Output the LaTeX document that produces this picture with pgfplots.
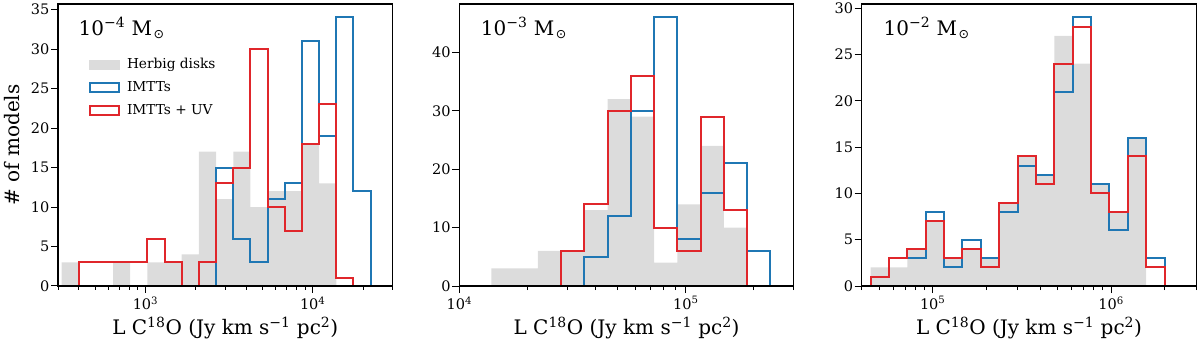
\documentclass[border=0pt]{standalone}
\usepackage{fontspec}
\setmainfont{DejaVu Serif}
\newfontfamily\symfont{DejaVu Sans}
\usepackage{pgfplots}
\pgfplotsset{compat=1.18}

\definecolor{mblue}{HTML}{1F77B4}
\definecolor{mred}{HTML}{E0262B}
\definecolor{herbig}{RGB}{220,220,220}

\newcommand{\msun}{M\hspace{1.5pt}\raisebox{-3.2pt}{\fontsize{12.5}{12.5}\symfont ⊙}}

\pgfplotsset{
  every axis/.append style={
    scale only axis, width=334.5pt, height=282pt,
    ymin=0, axis on top,
    axis line style={line width=1.1pt},
    tick align=outside, xtick pos=bottom, ytick pos=left,
    major tick length=7pt, minor tick length=4pt,
    tick label style={font=\fontsize{14.5}{16}\selectfont},
    yticklabel style={inner sep=1.5pt},
    label style={font=\fontsize{20}{24}\selectfont},
    /pgf/number format/assume math mode=true,
    xlabel={L C\textsuperscript{18}O (Jy km s\textsuperscript{−1} pc\textsuperscript{2})},
    xlabel style={at={(axis description cs:0.5,-0.173)}, anchor=base},
  },
  every tick/.append style={black, line width=1pt},
}
\tikzset{
  herb/.style={fill=herbig, draw=none, const plot, mark=none},
  imtt/.style={const plot, line width=2pt, draw=mblue, mark=none},
  imttuv/.style={const plot, line width=2pt, draw=mred, mark=none},
  ptitle/.style={anchor=base west, font=\fontsize{20}{24}\selectfont},
}

\begin{document}
\begin{tikzpicture}
\useasboundingbox (0pt,0pt) rectangle (1200pt,343pt);

% ---- 1e-4 Msun ----
\begin{semilogxaxis}[at={(58pt,57pt)}, anchor=south west,
  xmin=300, xmax=30000, ymax=35.7,
  xtick={1000,10000}, xticklabels={10\textsuperscript{3},10\textsuperscript{4}},
  minor xtick={300,400,500,600,700,800,900,2000,3000,4000,5000,6000,7000,8000,9000,20000,30000},
  ytick={0,5,10,15,20,25,30,35},
  ylabel={\# of models},
  ylabel style={at={(axis description cs:-0.137,0.5)}, anchor=center},
  legend cell align=left,
  legend style={at={(axis description cs:0.093,0.816)}, anchor=north west,
    draw=none, fill=none, inner sep=0pt, row sep=6pt,
    font=\fontsize{13.7}{16}\selectfont,
    nodes={inner sep=2pt, text height=10pt, text depth=3pt},
    /tikz/every odd column/.append style={column sep=5pt}},
]
\addplot[herb, legend image code/.code={\fill[herbig] (0pt,-5pt) rectangle (30.7pt,5pt);}] coordinates {(314.8,3)(398.8,0)(505.2,0)(639.9,3)(810.6,0)(1026.9,3)(1300.8,3)(1647.8,4)(2087.4,17)(2644.2,11)(3349.6,17)(4243.1,10)(5375,12)(6808.9,12)(8625.2,18)(10926,13)(13841,13)} \closedcycle;
\addlegendentry{Herbig disks}
\addplot[imtt, legend image code/.code={\draw[mblue, line width=2pt] (1pt,-4.3pt) rectangle (29.7pt,4.3pt);}] coordinates {(2644.2,0)(2644.2,15)(3349.6,6)(4243.1,3)(5375,11)(6808.9,13)(8625.2,31)(10926,19)(13841,34)(17533,12)(22210,12)(22210,0)};
\addlegendentry{IMTTs}
\addplot[imttuv, legend image code/.code={\draw[mred, line width=2pt] (1pt,-4.3pt) rectangle (29.7pt,4.3pt);}] coordinates {(398.8,0)(398.8,3)(505.2,3)(639.9,3)(810.6,3)(1026.9,6)(1300.8,3)(1647.8,0)(2087.4,3)(2644.2,13)(3349.6,15)(4243.1,30)(5375,10)(6808.9,7)(8625.2,18)(10926,23)(13841,1)(17533,1)(17533,0)};
\addlegendentry{IMTTs + UV}
\node[ptitle] at (axis description cs:0.051,0.89) {10\textsuperscript{−4} \msun};
\end{semilogxaxis}

% ---- 1e-3 Msun ----
\begin{semilogxaxis}[at={(459.3pt,57pt)}, anchor=south west,
  xmin=10000, xmax=300000, ymax=48.3,
  xtick={10000,100000}, xticklabels={10\textsuperscript{4},10\textsuperscript{5}},
  minor xtick={20000,30000,40000,50000,60000,70000,80000,90000,200000,300000},
  ytick={0,10,20,30,40},
]
\addplot[herb] coordinates {(13836,3)(17527,3)(22203,6)(28125,6)(35628,13)(45132,32)(57171,29)(72422,4)(91741,14)(116214,24)(147215,10)(186488,10)} \closedcycle;
\addplot[imtt] coordinates {(35628,0)(35628,5)(45132,12)(57171,30)(72422,46)(91741,8)(116214,16)(147215,21)(186488,6)(236234,6)(236234,0)};
\addplot[imttuv] coordinates {(28125,0)(28125,6)(35628,14)(45132,30)(57171,36)(72422,10)(91741,6)(116214,29)(147215,13)(186488,13)(186488,0)};
\node[ptitle] at (axis description cs:0.054,0.89) {10\textsuperscript{−3} \msun};
\end{semilogxaxis}

% ---- 1e-2 Msun ----
\begin{semilogxaxis}[at={(861.7pt,57pt)}, anchor=south west,
  xmin=40000, xmax=3000000, ymax=30.45,
  xtick={100000,1000000}, xticklabels={10\textsuperscript{5},10\textsuperscript{6}},
  minor xtick={40000,50000,60000,70000,80000,90000,200000,300000,400000,500000,600000,700000,800000,900000,2000000,3000000},
  ytick={0,5,10,15,20,25,30},
]
\addplot[herb] coordinates {(44843,2)(56845,2)(72059,4)(91346,7)(115795,3)(146788,4)(186076,3)(235880,9)(299014,14)(379046,12)(480497,27)(609101,24)(772126,11)(978785,8)(1240758,16)(1572846,16)} \closedcycle;
\addplot[imtt] coordinates {(44843,0)(44843,1)(56845,3)(72059,3)(91346,8)(115795,2)(146788,5)(186076,3)(235880,8)(299014,13)(379046,12)(480497,21)(609101,29)(772126,11)(978785,6)(1240758,16)(1572846,3)(1993819,3)(1993819,0)};
\addplot[imttuv] coordinates {(44843,0)(44843,1)(56845,3)(72059,4)(91346,7)(115795,3)(146788,4)(186076,2)(235880,9)(299014,14)(379046,11)(480497,24)(609101,28)(772126,10)(978785,8)(1240758,14)(1572846,2)(1993819,2)(1993819,0)};
\node[ptitle] at (axis description cs:0.055,0.89) {10\textsuperscript{−2} \msun};
\end{semilogxaxis}
\end{tikzpicture}
\end{document}
